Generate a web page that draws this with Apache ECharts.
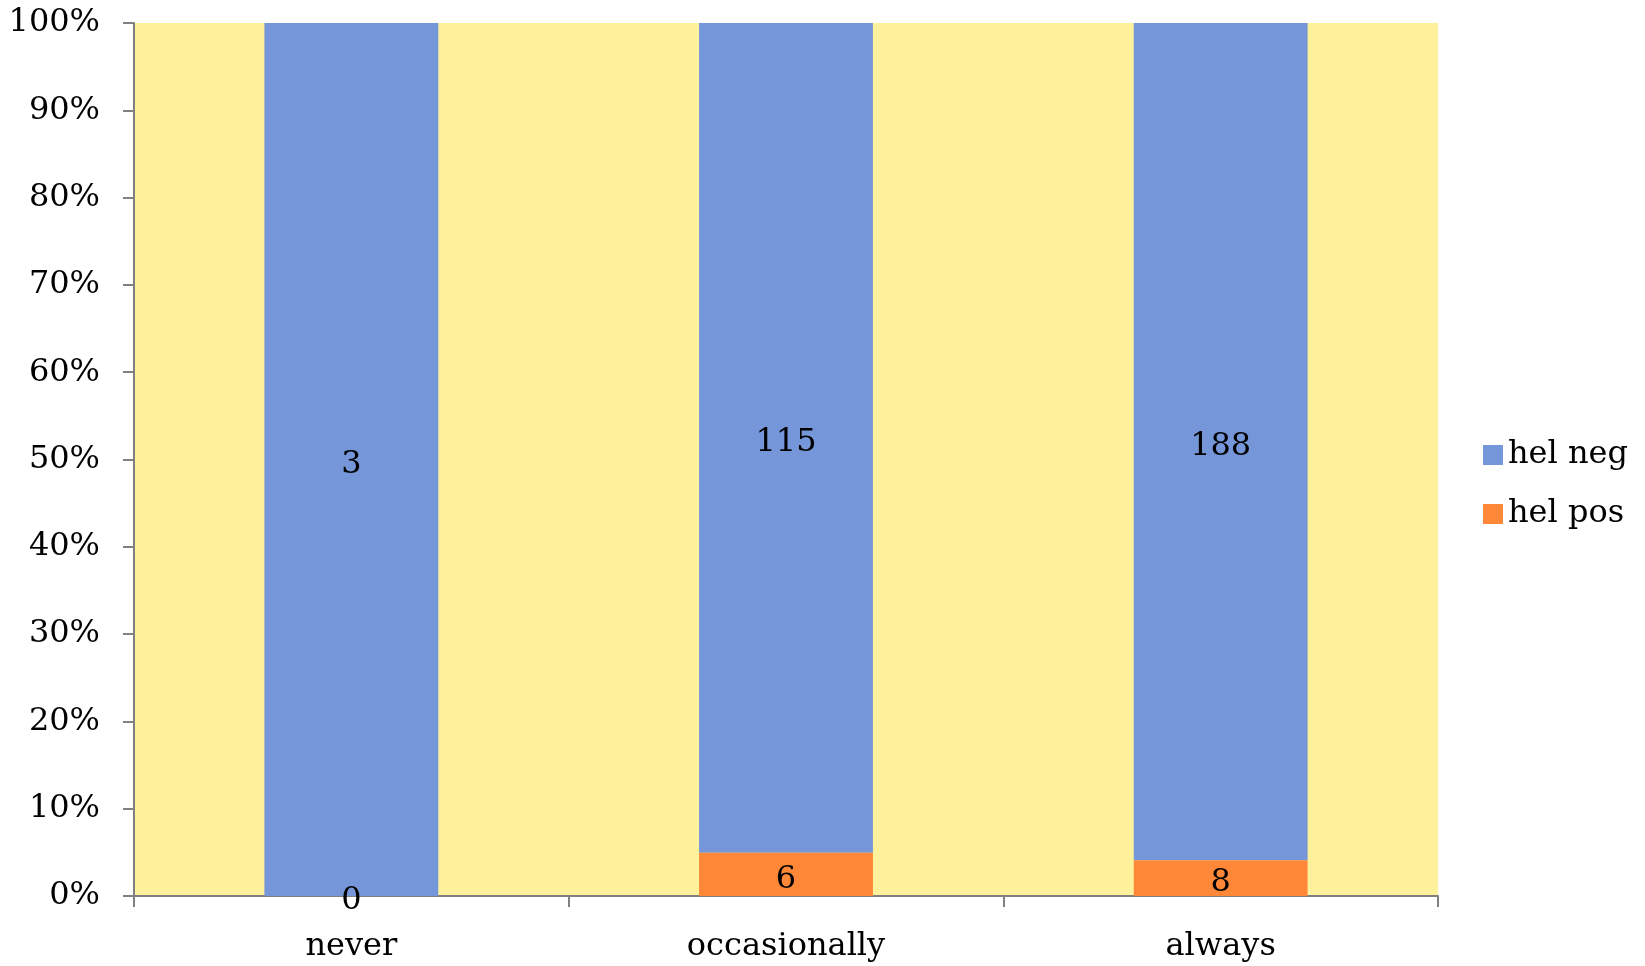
<!DOCTYPE html>
<html>
<head>
<meta charset="utf-8">
<script src="https://cdn.jsdelivr.net/npm/echarts@6/dist/echarts.min.js"></script>
<style>html,body{margin:0;padding:0;background:#fff}#c{width:1645px;height:966px}</style>
</head>
<body>
<div id="c"></div>
<script>
const categories = ['never', 'occasionally', 'always'];
const helPos = [0, 6, 8];
const helNeg = [3, 115, 188];
const yTicks = ['0%', '10%', '20%', '30%', '40%', '50%', '60%', '70%', '80%', '90%', '100%'];

const totals = categories.map((_, i) => helPos[i] + helNeg[i]);
const pct = (arr) => arr.map((v, i) => ({ value: totals[i] ? v / totals[i] * 100 : 0, raw: v }));

const FONT = 'DejaVu Serif';
const chart = echarts.init(document.getElementById('c'), null, { renderer: 'canvas' });
const labelStyle = {
  show: true, position: 'inside', offset: [0, 5], color: '#000', fontFamily: FONT, fontSize: 32,
  formatter: p => String(p.data.raw)
};
chart.setOption({
  animation: false,
  grid: { left: 134, top: 23, right: 207, bottom: 70, show: true, backgroundColor: '#FEF19C', borderWidth: 0 },
  legend: {
    orient: 'vertical', left: 1478, top: 434, itemWidth: 20, itemHeight: 20, itemGap: 27, itemTextGap: 9,
    icon: 'rect',
    textStyle: { fontFamily: FONT, fontSize: 32, lineHeight: 32, color: '#000' },
    data: ['hel neg', 'hel pos']
  },
  xAxis: {
    type: 'category', data: categories, boundaryGap: true,
    axisLine: { lineStyle: { color: '#808080', width: 2 } },
    axisTick: { show: true, length: 11, lineStyle: { color: '#808080', width: 2 } },
    axisLabel: { fontFamily: FONT, fontSize: 32, color: '#000', margin: 35 },
    splitLine: { show: false }
  },
  yAxis: {
    type: 'value', min: 0, max: 100, interval: 10,
    axisLine: { show: true, lineStyle: { color: '#808080', width: 2 } },
    axisTick: { show: true, length: 11, lineStyle: { color: '#808080', width: 2 } },
    axisLabel: { fontFamily: FONT, fontSize: 32, color: '#000', margin: 34,
      formatter: v => yTicks[Math.round(v / 10)] },
    splitLine: { show: false }
  },
  series: [
    { name: 'hel pos', type: 'bar', stack: 's', barWidth: '40%', data: pct(helPos),
      itemStyle: { color: '#FF8838' }, label: labelStyle, z: 3 },
    { name: 'hel neg', type: 'bar', stack: 's', barWidth: '40%', data: pct(helNeg),
      itemStyle: { color: '#7596D8' }, label: labelStyle, z: 2 }
  ]
});
</script>
</body>
</html>
